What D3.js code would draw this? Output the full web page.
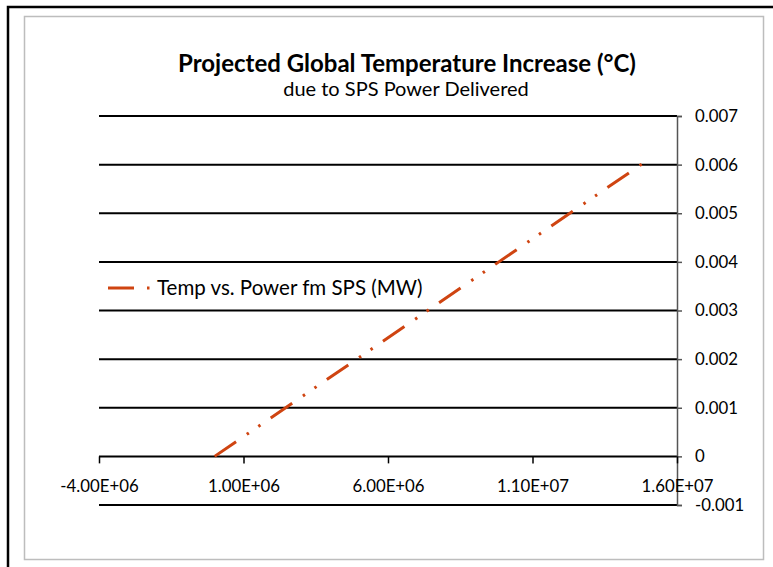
<!DOCTYPE html>
<meta charset="utf-8">
<title>Projected Global Temperature Increase</title>
<style>
body {
  margin: 0px;
  background: #fff;
}
svg {
  display: block;
  font-family: Lato, "Open Sans", sans-serif;
}
</style>
<script src="https://d3js.org/d3.v7.min.js"></script>
<body>
<script>
// series
var powerMW = [0, 15000000];
var tempC = [0, 0.0061];
var xTicks = [-4000000, 1000000, 6000000, 11000000, 16000000];
var yTicks = [-0.001, 0, 0.001, 0.002, 0.003, 0.004, 0.005, 0.006, 0.007];
var seriesName = "Temp vs. Power fm SPS (MW)";

var width = 773, height = 567;
var svg = d3.select("body").append("svg")
    .attr("width", width)
    .attr("height", height);

// frames
svg.append("rect")
    .attr("x", 8).attr("y", 7)
    .attr("width", width + 10).attr("height", height + 10)
    .attr("fill", "none")
    .attr("stroke", "#000")
    .attr("stroke-width", 2.5);
svg.append("rect")
    .attr("x", 24.5).attr("y", 16.5)
    .attr("width", 739).attr("height", 543)
    .attr("fill", "#fff")
    .attr("stroke", "#bdbdbd")
    .attr("stroke-width", 1.5);

var x = d3.scaleLinear().domain([-4000000, 16000000]).range([99, 677]);
var y = d3.scaleLinear().domain([-0.001, 0.007]).range([505, 116]);

function sci(v) {
  var e = Math.floor(Math.log10(Math.abs(v)));
  var m = v / Math.pow(10, e);
  return m.toFixed(2) + "E+" + String(e).padStart(2, "0");
}

// horizontal gridlines
svg.append("g").selectAll("line")
    .data(yTicks)
  .enter().append("line")
    .attr("x1", x.range()[0]).attr("x2", x.range()[1])
    .attr("y1", d => y(d)).attr("y2", d => y(d))
    .attr("stroke", "#000")
    .attr("stroke-width", 2);

// y axis on the right
var yAxis = svg.append("g")
    .attr("transform", "translate(" + x.range()[1] + ",0)")
    .call(d3.axisRight(y).tickValues(yTicks).tickSize(5).tickPadding(13)
      .tickFormat(d => String(+d.toFixed(3))));
yAxis.select(".domain").attr("stroke", "#555").attr("stroke-width", 1.5);
yAxis.selectAll(".tick line").attr("stroke", "#555").attr("stroke-width", 1.5);
yAxis.selectAll(".tick text")
    .attr("fill", "#000")
    .style("font-size", "16.8px")
    .style("font-family", "Lato, sans-serif");

// x axis at y = 0
var xAxis = svg.append("g")
    .attr("transform", "translate(0," + y(0) + ")")
    .call(d3.axisBottom(x).tickValues(xTicks).tickSize(7).tickPadding(17)
      .tickFormat(sci));
xAxis.select(".domain").remove();
xAxis.selectAll(".tick line").attr("stroke", "#000").attr("stroke-width", 1.5);
xAxis.selectAll(".tick text")
    .attr("fill", "#000")
    .style("font-size", "16.8px")
    .style("font-family", "Lato, sans-serif");

// the series
var dash = "26 13 2.5 11.5 2.5 12.5";
var line = d3.line()
    .x(d => x(d[0]))
    .y(d => y(d[1]));
svg.append("path")
    .datum(d3.zip(powerMW, tempC))
    .attr("d", line)
    .attr("fill", "none")
    .attr("stroke", "#cf4411")
    .attr("stroke-width", 3)
    .attr("stroke-dasharray", dash);

// legend
var legend = svg.append("g").attr("transform", "translate(108,288)");
legend.append("line")
    .attr("x1", 0).attr("x2", 45)
    .attr("stroke", "#cf4411")
    .attr("stroke-width", 3)
    .attr("stroke-dasharray", dash);
legend.append("text")
    .attr("x", 49).attr("y", 7)
    .style("font-size", "20.5px")
    .text(seriesName);

// titles
svg.append("text")
    .attr("x", 407).attr("y", 72)
    .attr("text-anchor", "middle")
    .style("font-size", "24px")
    .style("font-weight", "bold")
    .text("Projected Global Temperature Increase (°C)");
svg.append("text")
    .attr("x", 406).attr("y", 96)
    .attr("text-anchor", "middle")
    .style("font-size", "20px")
    .text("due to SPS Power Delivered");
</script>
